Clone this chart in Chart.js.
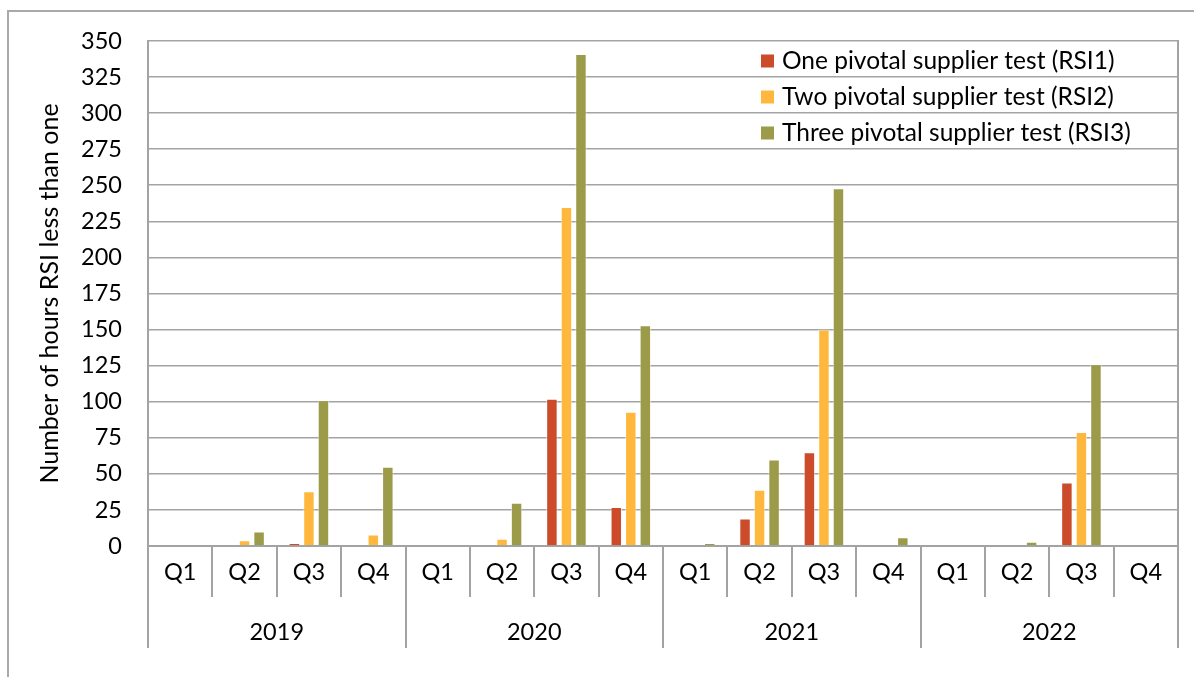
<!DOCTYPE html>
<html>
<head>
<meta charset="utf-8">
<script src="https://cdn.jsdelivr.net/npm/chart.js@4/dist/chart.umd.min.js"></script>
<style>
  html, body { margin: 0; padding: 0; background: #fff; }
  #wrap { position: relative; width: 1194px; height: 677px; overflow: hidden; }
  #frame { position: absolute; left: 7px; top: 10px; width: 2000px; height: 2000px;
           border-left: 2px solid #a9a9a9; border-top: 2px solid #a9a9a9; }
  canvas { position: absolute; left: 0; top: 0; }
</style>
</head>
<body>
<div id="wrap">
  <div id="frame"></div>
  <canvas id="c" width="1194" height="677"></canvas>
</div>
<script>
const quarters = ["Q1","Q2","Q3","Q4","Q1","Q2","Q3","Q4","Q1","Q2","Q3","Q4","Q1","Q2","Q3","Q4"];
const years = ["2019","2020","2021","2022"];
const seriesNames = ["One pivotal supplier test (RSI1)", "Two pivotal supplier test (RSI2)", "Three pivotal supplier test (RSI3)"];
const rsi1 = [0, 0, 2, 0,   0, 0, 102, 27,   0, 19, 65, 0,   0, 0, 44, 0];
const rsi2 = [0, 4, 38, 8,  0, 5, 235, 93,   0, 39, 150, 0,  0, 0, 79, 0];
const rsi3 = [0, 10, 101, 55, 0, 30, 341, 153, 2, 60, 248, 6, 0, 3, 126, 1];
const yTicksMax = 350, yTickStep = 25;
const yTitle = "Number of hours RSI less than one";

const colors = ["#CC4B2B", "#FFB83D", "#9C9B4A"];
const FONT = "Lato";
const FS = 23.5;
const TFS = 25;
const LFS = 24.5;
const GRID = "#a3a3a3";

const legendPlugin = {
  id: 'insideLegend',
  afterDraw(chart) {
    const ctx = chart.ctx;
    ctx.save();
    ctx.font = LFS + "px " + FONT;
    ctx.textBaseline = "middle";
    ctx.textAlign = "left";
    const x0 = 761, y0 = 61, dy = 36, box = 13;
    chart.data.datasets.forEach((ds, i) => {
      const y = y0 + i * dy;
      ctx.fillStyle = ds.backgroundColor;
      ctx.fillRect(x0, y - box / 2, box, box);
      ctx.fillStyle = "#000";
      ctx.fillText(ds.label, x0 + 21, y);
    });
    ctx.restore();
  }
};

new Chart(document.getElementById('c'), {
  type: 'bar',
  data: {
    labels: quarters,
    datasets: [
      { label: seriesNames[0], data: rsi1, backgroundColor: colors[0] },
      { label: seriesNames[1], data: rsi2, backgroundColor: colors[1] },
      { label: seriesNames[2], data: rsi3, backgroundColor: colors[2] }
    ]
  },
  options: {
    responsive: false,
    animation: false,
    devicePixelRatio: 1,
    layout: { padding: { left: 35, right: 16, top: 41, bottom: 29 } },
    datasets: { bar: { categoryPercentage: 0.677, barPercentage: 0.79,
                       borderWidth: 1, borderColor: 'rgba(255,255,255,0.55)' } },
    plugins: { legend: { display: false }, tooltip: { enabled: false } },
    scales: {
      x: {
        position: 'bottom',
        offset: true,
        grid: { offset: true, drawOnChartArea: false, drawTicks: true, tickLength: 51, color: GRID, lineWidth: 2 },
        border: { display: true, color: GRID, width: 2 },
        ticks: { autoSkip: false, maxRotation: 0, padding: -39, color: "#000", font: { family: FONT, size: FS } },
        afterFit: s => { s.height = 51; }
      },
      x2: {
        type: 'category',
        position: 'bottom',
        labels: years,
        offset: true,
        grid: { offset: true, drawOnChartArea: false, drawTicks: true, tickLength: 51, color: GRID, lineWidth: 2 },
        border: { display: false },
        ticks: { autoSkip: false, maxRotation: 0, padding: -30, color: "#000", font: { family: FONT, size: FS } },
        afterFit: s => { s.height = 51; }
      },
      y: {
        min: 0, max: yTicksMax,
        grid: { color: GRID, lineWidth: 1.6, drawTicks: false },
        border: { display: true, color: GRID, width: 2 },
        ticks: { stepSize: yTickStep, padding: 26, color: "#000", font: { family: FONT, size: FS } },
        title: { display: true, text: yTitle, color: "#000", font: { family: FONT, size: TFS }, padding: { top: 0, bottom: 0 } },
        afterFit: s => { s.width = 113; }
      },
      yR: {
        position: 'right',
        min: 0, max: yTicksMax,
        grid: { display: false, drawOnChartArea: false, drawTicks: false },
        border: { display: true, color: GRID, width: 2 },
        ticks: { display: false },
        afterFit: s => { s.width = 0; }
      }
    }
  },
  plugins: [legendPlugin]
});
</script>
</body>
</html>
